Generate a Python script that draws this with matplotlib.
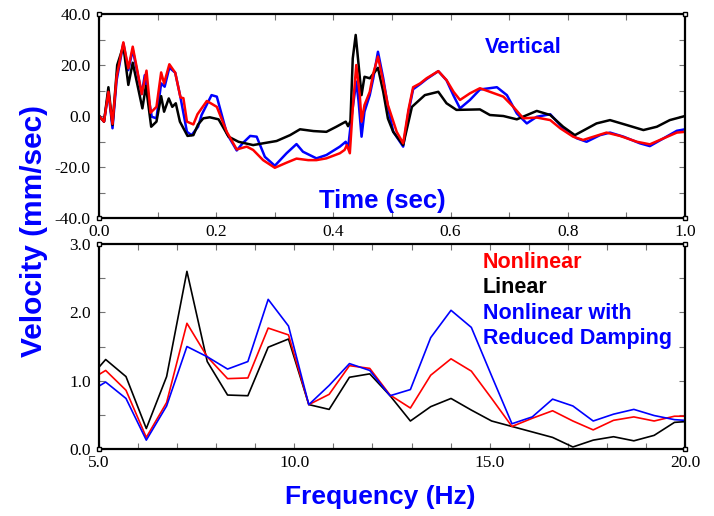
import matplotlib
matplotlib.use("Agg")
import matplotlib.pyplot as plt
from matplotlib.ticker import MultipleLocator, FormatStrFormatter

# ---- time histories (vertical velocity, mm/sec) ----
t_nonlinear = [0, 0.0085, 0.016, 0.023, 0.030, 0.0415, 0.050, 0.0575, 0.073, 0.081,
               0.088, 0.098, 0.106, 0.111, 0.120, 0.130, 0.139, 0.144, 0.150, 0.161,
               0.168, 0.184, 0.201, 0.218, 0.235, 0.252, 0.263, 0.280, 0.300, 0.320,
               0.337, 0.357, 0.371, 0.388, 0.411, 0.419, 0.423, 0.428, 0.433, 0.439,
               0.445, 0.448, 0.453, 0.462, 0.468, 0.476, 0.485, 0.493, 0.508, 0.519,
               0.528, 0.536, 0.548, 0.559, 0.579, 0.593, 0.605, 0.616, 0.633, 0.650,
               0.667, 0.690, 0.707, 0.724, 0.747, 0.770, 0.787, 0.809, 0.826, 0.844,
               0.866, 0.889, 0.918, 0.940, 0.963, 0.986, 1.0]
v_nonlinear = [0.1, -2.2, 9.5, -3.1, 15.4, 28.9, 18.7, 27.2, 8.6, 17.8,
               1.3, 3.6, 17.1, 12.8, 20.3, 17.0, 7.3, 7.0, -2.2, -3.3,
               0.7, 5.9, 3.6, -6.2, -13.1, -12.0, -13.3, -17.3, -20.3, -18.3,
               -16.7, -17.3, -17.3, -16.6, -14.6, -13.3, -11.4, -14.6, 3.0, 20.0,
               8.2, -2.2, 4.3, 9.5, 16.7, 23.3, 13.5, 4.3, -6.2, -10.7,
               2.4, 11.3, 12.8, 14.8, 17.6, 14.1, 9.5, 6.3, 8.9, 10.9,
               9.5, 7.6, 3.6, -0.9, -0.6, -1.6, -4.8, -8.1, -9.4, -8.1,
               -6.5, -7.8, -10.1, -11.1, -8.8, -6.5, -6.2]

t_linear = [0, 0.0085, 0.016, 0.023, 0.031, 0.0415, 0.050, 0.0575, 0.074, 0.080,
            0.089, 0.098, 0.106, 0.111, 0.119, 0.125, 0.131, 0.138, 0.151, 0.161,
            0.169, 0.178, 0.189, 0.204, 0.221, 0.238, 0.263, 0.280, 0.303, 0.326,
            0.343, 0.366, 0.388, 0.405, 0.421, 0.425, 0.429, 0.433, 0.438, 0.443,
            0.448, 0.453, 0.462, 0.476, 0.485, 0.493, 0.502, 0.519, 0.534, 0.556,
            0.579, 0.593, 0.610, 0.650, 0.667, 0.690, 0.713, 0.747, 0.770, 0.792,
            0.812, 0.849, 0.872, 0.900, 0.929, 0.952, 0.974, 1.0]
v_linear = [0.1, -2.2, 11.3, -3.5, 20.0, 27.5, 12.2, 20.9, 3.0, 11.8,
            -4.2, -2.2, 7.8, 1.7, 6.9, 3.6, 5.0, -2.2, -7.8, -7.5,
            -3.3, -0.9, -0.5, -1.3, -8.1, -10.1, -11.4, -10.7, -9.8, -7.5,
            -5.2, -5.9, -6.2, -4.2, -2.2, -4.0, -2.0, 22.6, 31.8, 20.0,
            8.2, 15.4, 14.8, 18.9, 9.5, -1.0, -6.2, -11.4, 3.6, 8.2,
            9.5, 5.0, 2.4, 2.6, 0.4, 0.0, -1.3, 2.0, 0.4, -4.2,
            -7.5, -2.9, -1.6, -3.5, -5.5, -4.2, -1.6, 0.0]

t_reduced = [0, 0.0085, 0.016, 0.023, 0.030, 0.0415, 0.050, 0.0575, 0.073, 0.078,
             0.090, 0.098, 0.106, 0.112, 0.120, 0.130, 0.139, 0.150, 0.158, 0.169,
             0.175, 0.192, 0.201, 0.218, 0.235, 0.245, 0.258, 0.269, 0.283, 0.300,
             0.320, 0.337, 0.348, 0.371, 0.388, 0.411, 0.421, 0.425, 0.432, 0.439,
             0.443, 0.448, 0.453, 0.462, 0.468, 0.476, 0.485, 0.493, 0.502, 0.519,
             0.528, 0.536, 0.548, 0.559, 0.579, 0.593, 0.605, 0.616, 0.633, 0.650,
             0.679, 0.696, 0.713, 0.730, 0.747, 0.770, 0.792, 0.815, 0.832, 0.855,
             0.872, 0.895, 0.923, 0.940, 0.963, 0.986, 1.0]
v_reduced = [0.1, -2.2, 9.5, -4.8, 14.0, 28.5, 18.0, 26.0, 8.6, 16.0,
             -0.3, -0.9, 12.8, 11.5, 19.0, 17.0, 7.3, -6.2, -7.5, -4.2,
             0.4, 8.2, 7.6, -6.8, -13.5, -10.7, -7.8, -8.1, -16.0, -19.5,
             -14.6, -11.0, -14.0, -16.6, -15.3, -12.0, -10.1, -12.6, 1.7, 13.5,
             5.6, -8.1, 1.7, 8.2, 14.8, 25.2, 14.8, 3.6, -6.1, -12.0,
             1.5, 10.5, 12.5, 14.5, 17.6, 14.0, 8.0, 3.0, 6.3, 10.4,
             11.3, 8.2, 1.0, -2.9, -0.3, 0.7, -4.8, -8.7, -10.1, -7.5,
             -6.5, -8.1, -10.7, -11.8, -8.8, -5.8, -5.2]

# ---- Fourier amplitude spectra ----
freq_hz = [4.65, 5.17, 5.69, 6.21, 6.73, 7.25, 7.77, 8.29, 8.81, 9.33,
           9.85, 10.37, 10.89, 11.41, 11.93, 12.45, 12.97, 13.49, 14.01, 14.53,
           15.05, 15.57, 16.09, 16.61, 17.13, 17.65, 18.17, 18.69, 19.21, 19.73,
           20.25]
amp_nonlinear = [0.97, 1.15, 0.86, 0.17, 0.68, 1.84, 1.35, 1.03, 1.04, 1.77,
                 1.67, 0.65, 0.80, 1.22, 1.18, 0.79, 0.60, 1.08, 1.32, 1.14,
                 0.74, 0.33, 0.45, 0.56, 0.41, 0.28, 0.42, 0.47, 0.41, 0.48,
                 0.48]
amp_linear = [0.97, 1.31, 1.06, 0.30, 1.06, 2.60, 1.28, 0.79, 0.78, 1.49,
              1.61, 0.65, 0.58, 1.05, 1.10, 0.78, 0.41, 0.62, 0.74, 0.57,
              0.41, 0.33, 0.25, 0.17, 0.03, 0.13, 0.18, 0.12, 0.20, 0.39,
              0.41]
amp_reduced = [0.80, 0.98, 0.74, 0.13, 0.63, 1.50, 1.35, 1.17, 1.28, 2.19,
               1.80, 0.65, 0.93, 1.25, 1.15, 0.78, 0.87, 1.63, 2.03, 1.78,
               1.07, 0.37, 0.47, 0.73, 0.63, 0.41, 0.51, 0.58, 0.49, 0.43,
               0.41]

RED, BLUE, BLACK = "#ff0000", "#0000ff", "#000000"
LABEL_FONT = "Liberation Sans"
TICK_FONT = "Liberation Serif"

fig = plt.figure(figsize=(7.14, 5.16), dpi=100)
ax_t = fig.add_axes([0.1387, 0.5775, 0.8207, 0.3953])
ax_f = fig.add_axes([0.1387, 0.1298, 0.8207, 0.3973])


def style_axes(ax, xmajor, xminor, ymajor, yminor):
    for s in ax.spines.values():
        s.set_linewidth(1.6)
        s.set_color("black")
        s.set_zorder(5)
    ax.xaxis.set_major_locator(MultipleLocator(xmajor))
    ax.xaxis.set_minor_locator(MultipleLocator(xminor))
    ax.yaxis.set_major_locator(MultipleLocator(ymajor))
    ax.yaxis.set_minor_locator(MultipleLocator(yminor))
    ax.xaxis.set_major_formatter(FormatStrFormatter("%.1f"))
    ax.yaxis.set_major_formatter(FormatStrFormatter("%.1f"))
    ax.tick_params(which="both", direction="in", top=True, right=True,
                   length=4, width=0.8, color="0.45", labelsize=12.5)
    ax.tick_params(axis="y", pad=6)
    ax.tick_params(axis="x", pad=4)
    for lab in ax.get_xticklabels() + ax.get_yticklabels():
        lab.set_fontfamily(TICK_FONT)
    # small squares marking the frame corners
    ax.plot([0, 1, 0, 1], [0, 0, 1, 1], transform=ax.transAxes, ls="none",
            marker="s", ms=3.2, mfc="white", mec="black", mew=1.0,
            clip_on=False, zorder=6)


# top panel: time histories
ax_t.plot(t_reduced, v_reduced, color=BLUE, lw=1.8, zorder=2,
          solid_joinstyle="round")
ax_t.plot(t_linear, v_linear, color=BLACK, lw=1.8, zorder=3,
          solid_joinstyle="round")
ax_t.plot(t_nonlinear, v_nonlinear, color=RED, lw=1.8, zorder=4,
          solid_joinstyle="round")
ax_t.set_xlim(0, 1.0)
ax_t.set_ylim(-40, 40)
style_axes(ax_t, 0.2, 0.1, 20, 10)
ax_t.text(0.483, 0.085, "Time (sec)", transform=ax_t.transAxes, ha="center",
          va="center", color=BLUE, fontsize=18.5, fontweight="bold",
          family=LABEL_FONT)
ax_t.text(0.658, 0.835, "Vertical", transform=ax_t.transAxes, ha="left",
          va="center", color=BLUE, fontsize=15.5, fontweight="bold",
          family=LABEL_FONT)

# bottom panel: spectra
ax_f.plot(freq_hz, amp_linear, color=BLACK, lw=1.2, zorder=2)
ax_f.plot(freq_hz, amp_nonlinear, color=RED, lw=1.2, zorder=3)
ax_f.plot(freq_hz, amp_reduced, color=BLUE, lw=1.2, zorder=4)
ax_f.set_xlim(5, 20)
ax_f.set_ylim(0, 3.0)
style_axes(ax_f, 5, 1, 1.0, 0.5)

legend_rows = [("Nonlinear", RED), ("Linear", BLACK),
               ("Nonlinear with", BLUE), ("Reduced Damping", BLUE)]
for i, (txt, col) in enumerate(legend_rows):
    ax_f.text(0.655, 0.91 - i * 0.124, txt, transform=ax_f.transAxes,
              ha="left", va="center", color=col, fontsize=15.5,
              fontweight="bold", family=LABEL_FONT)

fig.text(0.5327, 0.036, "Frequency (Hz)", ha="center", va="center",
         color=BLUE, fontsize=19, fontweight="bold", family=LABEL_FONT)
fig.text(0.047, 0.552, "Velocity (mm/sec)", ha="center", va="center",
         rotation=90, color=BLUE, fontsize=21.5, fontweight="bold",
         family=LABEL_FONT)

fig.savefig("out.png", dpi=100)
